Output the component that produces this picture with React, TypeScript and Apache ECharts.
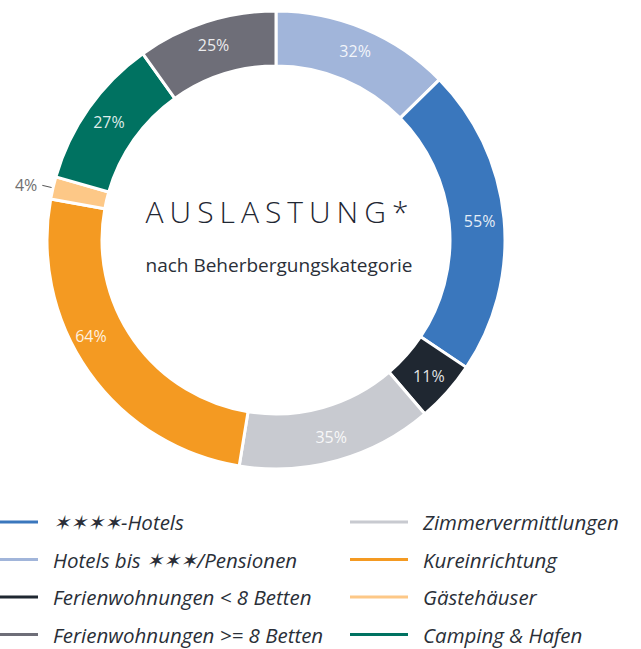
import React, { useEffect, useRef } from "react";
import * as echarts from "echarts";

const categories = [
  "Hotels bis ✶✶✶/Pensionen",
  "✶✶✶✶-Hotels",
  "Ferienwohnungen < 8 Betten",
  "Zimmervermittlungen",
  "Kureinrichtung",
  "Gästehäuser",
  "Camping & Hafen",
  "Ferienwohnungen >= 8 Betten",
];
const values = [32, 55, 11, 35, 64, 4, 27, 25];
const colors = ["#a1b5da", "#3a77bd", "#1f2731", "#c8cad0", "#f49a22", "#fdc887", "#007261", "#6e6e78"];
const legendLeft = ["✶✶✶✶-Hotels", "Hotels bis ✶✶✶/Pensionen", "Ferienwohnungen < 8 Betten", "Ferienwohnungen >= 8 Betten"];
const legendRight = ["Zimmervermittlungen", "Kureinrichtung", "Gästehäuser", "Camping & Hafen"];
const outsideLabels = ["Gästehäuser"];
const titleText = "AUSLASTUNG*";
const subtitleText = "nach Beherbergungskategorie";

const FONT = "'Open Sans', 'Noto Sans', sans-serif";

export default function App() {
  const ref = useRef<HTMLDivElement>(null);
  useEffect(() => {
    document.body.style.margin = "0";
    const chart = echarts.init(ref.current!, null, { renderer: "svg" });
    const legendCommon = {
      orient: "vertical",
      top: 512,
      height: 137,
      padding: 0,
      icon: "rect",
      itemWidth: 58,
      itemHeight: 3,
      itemGap: 17.5,
      selectedMode: false,
      itemStyle: { borderWidth: 0 },
      textStyle: {
        fontFamily: FONT,
        fontStyle: "italic",
        fontSize: 20.5,
        lineHeight: 20,
        color: "#2a2f38",
        padding: [0, 0, 0, 10],
      },
    };
    chart.setOption({
      animation: false,
      legend: [
        { ...legendCommon, left: -20, data: legendLeft },
        { ...legendCommon, left: 350, data: legendRight },
      ],
      graphic: [
        {
          type: "text",
          x: 280,
          y: 211,
          style: {
            text: titleText,
            fontFamily: FONT,
            fontSize: 30,
            fontWeight: 300,
            fill: "#1f2733",
            textAlign: "center",
            textVerticalAlign: "middle",
          },
        },
        {
          type: "text",
          x: 279,
          y: 265,
          style: {
            text: subtitleText,
            fontFamily: FONT,
            fontSize: 19,
            fill: "#2a2f38",
            textAlign: "center",
            textVerticalAlign: "middle",
          },
        },
      ],
      series: [
        {
          type: "pie",
          center: [276, 240],
          radius: [174, 229],
          startAngle: 90,
          clockwise: true,
          avoidLabelOverlap: false,
          itemStyle: { borderColor: "#ffffff", borderWidth: 3 },
          label: {
            show: true,
            position: "inside",
            formatter: "{c}%",
            fontFamily: FONT,
            fontSize: 16,
            color: "rgba(255,255,255,0.88)",
          },
          labelLine: { show: false },
          emphasis: { disabled: true },
          data: categories.map((name, i) => {
            const out = outsideLabels.includes(name);
            let label: any = undefined;
            if (out) {
              label = { position: "outside", color: "#707070", fontSize: 16, distanceToLabelLine: 5, padding: [0, 0, 10, 0] };
            } else if (name === "Kureinrichtung") {
              label = { offset: [-18, -22] };
            }
            return {
              name,
              value: values[i],
              itemStyle: { color: colors[i] },
              label,
              labelLine: out
                ? { show: true, length: 11, length2: 0, lineStyle: { color: "#555", width: 1 } }
                : undefined,
            };
          }),
        },
      ],
    });
    const texts = ref.current!.querySelectorAll("text");
    texts.forEach((t) => {
      if (t.textContent === titleText) {
        (t as SVGTextElement).style.letterSpacing = "6px";
      }
    });
    return () => chart.dispose();
  }, []);
  return <div ref={ref} style={{ width: 641, height: 649 }} />;
}
